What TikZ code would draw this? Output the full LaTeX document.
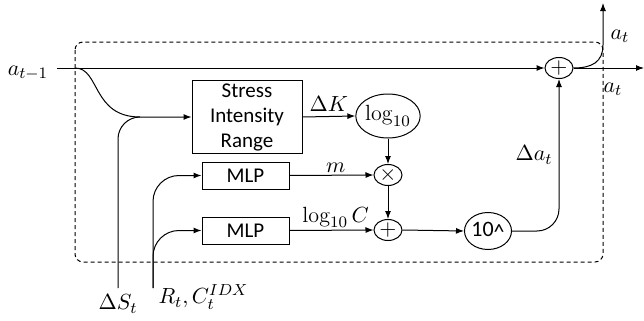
\documentclass[tikz,border=0pt]{standalone}
\usepackage{fontspec}
\newfontfamily\boxfont{Carlito}
\usetikzlibrary{arrows.meta,positioning,calc,shapes.geometric}

\begin{document}
\begin{tikzpicture}[
        x=0.5pt, y=-0.5pt,
        line width=0.5pt,
        >={Latex[length=4pt,width=3pt]},
        procBox/.style={
            draw,
            minimum width=55pt,
            minimum height=36.5pt,
            align=center,
            inner sep=1pt,
            font=\boxfont\fontsize{10.5}{12.5}\selectfont
        },
        mlpBox/.style={
            draw,
            minimum width=43.5pt,
            minimum height=13.5pt,
            inner sep=1pt,
            font=\boxfont\fontsize{10.5}{12.5}\selectfont
        },
        opOval/.style={
            draw,
            ellipse,
            minimum width=14pt,
            minimum height=10.5pt,
            inner sep=0pt,
            font=\fontsize{11}{13}\selectfont
        },
        funcOval/.style={
            draw,
            ellipse,
            inner sep=0pt,
            font=\fontsize{11}{13}\selectfont
        },
        labelText/.style={
            inner sep=1pt,
            font=\fontsize{11}{13}\selectfont
        }
    ]

        \useasboundingbox (0,0) rectangle (644,321);

        % Frame of the cell
        \draw[dash pattern=on 2pt off 1.5pt, rounded corners=4pt]
            (75,42) rectangle (603,262);

        % Blocks
        \node[procBox] (stressRange) at (247,117) {Stress\\Intensity\\Range};
        \node[mlpBox] (mlpM) at (245.5,175.5) {MLP};
        \node[mlpBox] (mlpC) at (245.5,230.5) {MLP};

        \node[funcOval, minimum width=28pt, minimum height=22pt]
            (logK) at (388,116) {$\log_{10}$};
        \node[opOval] (timesOp) at (388,175) {$\times$};
        \node[opOval] (plusLow) at (388,230) {$+$};
        \node[funcOval, minimum width=23pt, minimum height=18.5pt,
            font=\boxfont\fontsize{11}{13}\selectfont]
            (powTen) at (488,231) {10\raisebox{-0.35ex}{\textasciicircum}};
        \node[opOval] (plusTop) at (559,68) {$+$};

        % Inputs and outputs
        \node[labelText] (aPrev) at (28,73) {$a_{t-1}$};
        \coordinate (aIn) at (57,68);
        \coordinate (aSplit) at (75,68);
        \coordinate (aJoin) at (140,117);

        \node[labelText] (dS) at (118,304) {$\Delta S_t$};
        \coordinate (dSIn) at (118,288);

        \coordinate (rcIn) at (153,288);
        \node[labelText, anchor=west] (rcLab) at (156,297) {$R_t, C_t^{IDX}$};

        \coordinate (aOutRight) at (644,68);
        \coordinate (aOutUp) at (603,3);
        \node[labelText] (aRightLab) at (613,89) {$a_t$};
        \node[labelText] (aUpLab) at (620,36) {$a_t$};

        % Connectors
        \draw[->] (aIn) -- (plusTop.west);
        \draw (aSplit) .. controls (100,68) and (92,117) .. (aJoin);
        \draw[->, rounded corners=11pt] (dSIn) |- (stressRange.west);

        \draw[->, rounded corners=13pt] (rcIn) |- (mlpC.west);
        \draw[->, rounded corners=13pt] (rcIn) |- (mlpM.west);

        \draw[->] (stressRange.east) -- node[labelText, above=1pt] {$\Delta K$} (logK.west);
        \draw[->] (logK.south) -- (timesOp.north);
        \draw[->] (mlpM.east) -- node[labelText, above, pos=0.55] {$m$} (timesOp.west);
        \draw[->] (timesOp.south) -- (plusLow.north);
        \draw[->] (mlpC.east) -- node[labelText, above, pos=0.55] {$\log_{10} C$} (plusLow.west);
        \draw[->] (plusLow.east) -- (powTen.west);
        \draw[->, rounded corners=11pt] (powTen.east) -| node[labelText, pos=0.75, left=2pt] {$\Delta a_t$} (plusTop.south);

        \draw[->] (plusTop.east) -- (aOutRight);
        \draw[->] (plusTop.east) .. controls (592,68) and (603,62) .. (603,45) -- (aOutUp);

\end{tikzpicture}
\end{document}
